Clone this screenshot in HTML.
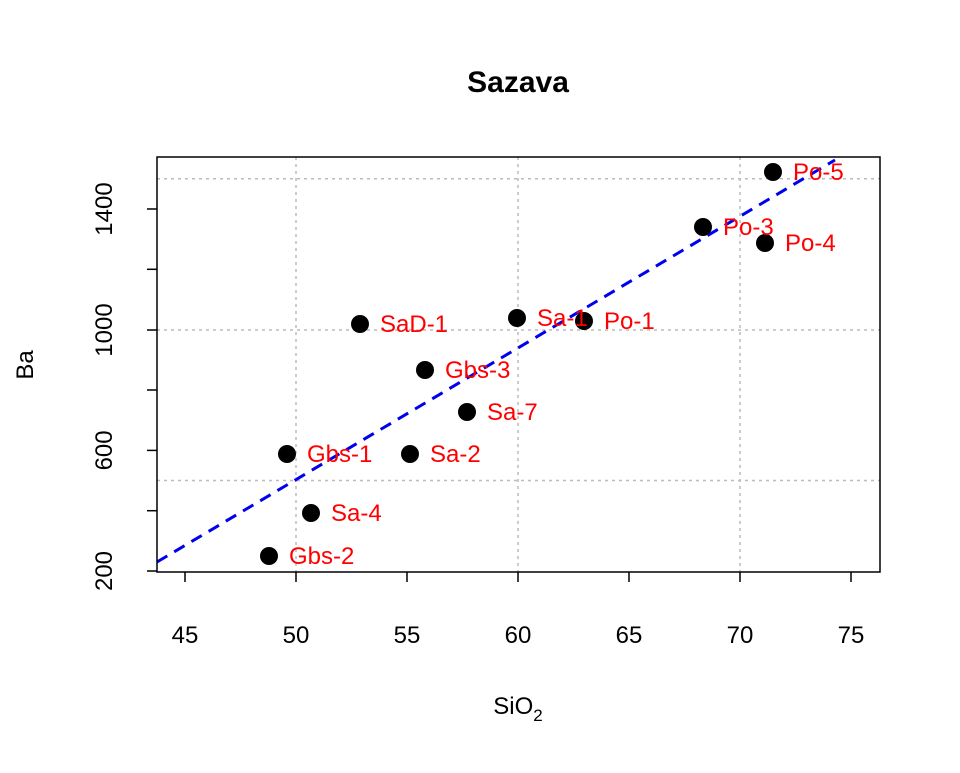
<!DOCTYPE html>
<html><head><style>body{margin:0;background:#fff}</style></head><body>
<svg width="960" height="768" xmlns="http://www.w3.org/2000/svg" font-family="Liberation Sans, Arial, sans-serif">
<rect width="960" height="768" fill="#fff"/>
<text x="518" y="92" font-size="30" font-weight="bold" text-anchor="middle">Sazava</text>
<g stroke="#bbb" stroke-width="1.5" stroke-dasharray="3,4">
<line x1="296" y1="157" x2="296" y2="572"/><line x1="518" y1="157" x2="518" y2="572"/><line x1="740" y1="157" x2="740" y2="572"/>
<line x1="157" y1="480.5" x2="880" y2="480.5"/><line x1="157" y1="330" x2="880" y2="330"/><line x1="157" y1="178.8" x2="880" y2="178.8"/>
</g>
<line x1="157" y1="562" x2="835" y2="160" stroke="#0000ee" stroke-width="3" stroke-dasharray="12,8"/>
<rect x="157" y="157" width="723" height="415" fill="none" stroke="#000" stroke-width="1.5"/>
<g stroke="#000" stroke-width="1.5">
<line x1="185" y1="572" x2="185" y2="582"/><line x1="296" y1="572" x2="296" y2="582"/><line x1="407" y1="572" x2="407" y2="582"/><line x1="518" y1="572" x2="518" y2="582"/><line x1="629" y1="572" x2="629" y2="582"/><line x1="740" y1="572" x2="740" y2="582"/><line x1="851" y1="572" x2="851" y2="582"/>
<line x1="147" y1="571" x2="157" y2="571"/><line x1="147" y1="510.7" x2="157" y2="510.7"/><line x1="147" y1="450.4" x2="157" y2="450.4"/><line x1="147" y1="390" x2="157" y2="390"/><line x1="147" y1="330" x2="157" y2="330"/><line x1="147" y1="269.3" x2="157" y2="269.3"/><line x1="147" y1="209" x2="157" y2="209"/>
</g>
<g font-size="24" text-anchor="middle">
<text x="185" y="643">45</text><text x="296" y="643">50</text><text x="407" y="643">55</text><text x="518" y="643">60</text><text x="629" y="643">65</text><text x="740" y="643">70</text><text x="851" y="643">75</text>
<text transform="translate(112,571) rotate(-90)">200</text>
<text transform="translate(112,450.4) rotate(-90)">600</text>
<text transform="translate(112,330) rotate(-90)">1000</text>
<text transform="translate(112,209) rotate(-90)">1400</text>
<text x="518" y="714">SiO<tspan font-size="17" dy="7">2</tspan></text>
<text transform="translate(33,365) rotate(-90)">Ba</text>
</g>
<g fill="#000">
<circle cx="269" cy="556" r="9"/><circle cx="287" cy="454" r="9"/><circle cx="311" cy="513" r="9"/><circle cx="360" cy="324" r="9"/><circle cx="410" cy="454" r="9"/><circle cx="425" cy="370" r="9"/><circle cx="467" cy="412" r="9"/><circle cx="517" cy="318" r="9"/><circle cx="584" cy="321" r="9"/><circle cx="703" cy="227" r="9"/><circle cx="765" cy="243" r="9"/><circle cx="773" cy="172" r="9"/>
</g>
<g fill="#ff0000" font-size="24">
<text x="289" y="564">Gbs-2</text><text x="307" y="462">Gbs-1</text><text x="331" y="521">Sa-4</text><text x="380" y="332">SaD-1</text><text x="430" y="462">Sa-2</text><text x="445" y="378">Gbs-3</text><text x="487" y="420">Sa-7</text><text x="537" y="326">Sa-1</text><text x="604" y="329">Po-1</text><text x="723" y="235">Po-3</text><text x="785" y="251">Po-4</text><text x="793" y="180">Po-5</text>
</g>
</svg>
</body></html>
